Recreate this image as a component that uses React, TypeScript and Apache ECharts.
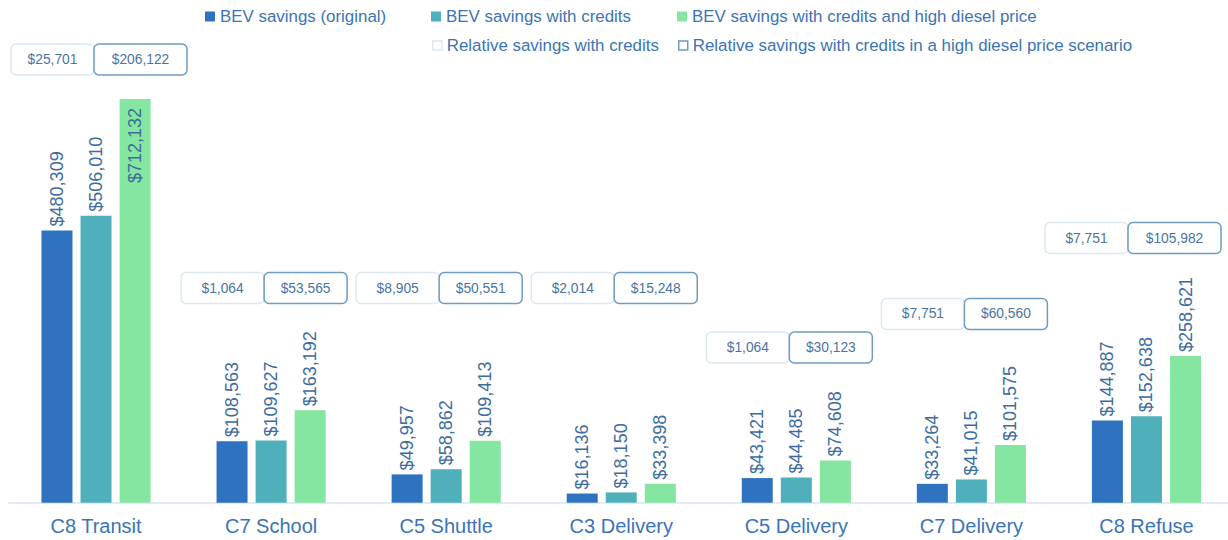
import React, { useEffect, useRef } from 'react';
import * as echarts from 'echarts';

const categories = ['C8 Transit', 'C7 School', 'C5 Shuttle', 'C3 Delivery', 'C5 Delivery', 'C7 Delivery', 'C8 Refuse'];
const bevOriginal = [480309, 108563, 49957, 16136, 43421, 33264, 144887];
const bevCredits = [506010, 109627, 58862, 18150, 44485, 41015, 152638];
const bevHighDiesel = [712132, 163192, 109413, 33398, 74608, 101575, 258621];
const relCredits = [25701, 1064, 8905, 2014, 1064, 7751, 7751];
const relHighDiesel = [206122, 53565, 50551, 15248, 30123, 60560, 105982];
// level (in $ on the value axis) at which the relative-savings callouts sit
const relLabelLevel = [781800, 378700, 378700, 378700, 273800, 332900, 466900];

const seriesNames = [
  'BEV savings (original)',
  'BEV savings with credits',
  'BEV savings with credits and high diesel price',
  'Relative savings with credits',
  'Relative savings with credits in a high diesel price scenario',
];

const FONT = '"Liberation Sans", Arial, sans-serif';
const fmt = (v: number) => '$' + Number(v).toLocaleString('en-US');

export default function App() {
  const ref = useRef<HTMLDivElement>(null);
  useEffect(() => {
    const chart = echarts.init(ref.current!, null, { renderer: 'svg' });
    const Y_MAX = 800000;
    const VIS_LEFT = 11;
    const VIS_RIGHT = 1221;

    const barLabel = {
      show: true,
      position: 'top',
      rotate: 90,
      align: 'left',
      verticalAlign: 'middle',
      distance: 4,
      fontSize: 18,
      fontFamily: FONT,
      color: '#3d6c9f',
      formatter: (p: any) => fmt(p.value),
    };

    const mkBar = (name: string, data: number[], color: string) => ({
      type: 'bar',
      name,
      data: data.map((v) =>
        v > Y_MAX * 0.85
          ? { value: v, label: { position: 'insideTop', align: 'right', verticalAlign: 'middle', distance: 9 } }
          : v
      ),
      barWidth: 31,
      barGap: '26%',
      itemStyle: { color },
      label: barLabel,
    });

    const boxWidth = (t: string) => 83 + Math.max(0, t.length - 7) * 10;

    const mkBox = (name: string, values: number[], other: number[], side: 'left' | 'right', stroke: string) => ({
      type: 'custom',
      name,
      coordinateSystem: 'cartesian2d',
      data: values.map((v, i) => [i, relLabelLevel[i], v, other[i]]),
      encode: { x: 0, y: 1 },
      z: 5,
      renderItem: (params: any, api: any) => {
        const p = api.coord([api.value(0), api.value(1)]);
        const text = fmt(api.value(2));
        const otherText = fmt(api.value(3));
        const w = boxWidth(text);
        const wl = side === 'left' ? w : boxWidth(otherText);
        const wr = side === 'right' ? w : boxWidth(otherText);
        const h = 31;
        let junction = p[0] - 7;
        if (junction - wl < VIS_LEFT) junction = VIS_LEFT + wl;
        if (junction + wr > VIS_RIGHT) junction = VIS_RIGHT - wr;
        const x = side === 'left' ? junction - w : junction;
        return {
          type: 'group',
          children: [
            {
              type: 'rect',
              shape: { x, y: p[1] - h / 2, width: w, height: h, r: 5 },
              style: { fill: '#ffffff', stroke, lineWidth: 1.5 },
            },
            {
              type: 'text',
              style: {
                x: x + w / 2,
                y: p[1],
                text,
                align: 'center',
                verticalAlign: 'middle',
                fontSize: 13.8,
                fontFamily: FONT,
                fill: '#4a74a2',
              },
            },
          ],
        };
      },
    });

    const legendBase = {
      padding: 0,
      itemWidth: 10,
      itemHeight: 10,
      icon: 'rect',
      selectedMode: false,
      textStyle: { fontSize: 16.9, color: '#3c73b4', fontFamily: FONT },
    };

    chart.setOption({
      animation: false,
      backgroundColor: '#ffffff',
      legend: [
        { ...legendBase, left: 205, top: 8, data: [seriesNames[0]] },
        { ...legendBase, left: 431, top: 8, data: [seriesNames[1]] },
        { ...legendBase, left: 677, top: 8, data: [seriesNames[2]] },
        {
          ...legendBase,
          left: 432,
          top: 37,
          itemWidth: 9,
          itemHeight: 9,
          data: [{ name: seriesNames[3], itemStyle: { color: '#ffffff', borderColor: '#dce8f4', borderWidth: 1.5 } }],
        },
        {
          ...legendBase,
          left: 678,
          top: 37,
          itemWidth: 9,
          itemHeight: 9,
          data: [{ name: seriesNames[4], itemStyle: { color: '#ffffff', borderColor: '#6d9cc2', borderWidth: 1.5 } }],
        },
      ],
      grid: { left: 8.5, right: 0, top: 49.2, bottom: 37.3, containLabel: false },
      xAxis: {
        type: 'category',
        data: categories,
        axisTick: { show: false },
        axisLine: { lineStyle: { color: '#d9e4f1', width: 1.5 } },
        axisLabel: { fontSize: 20, color: '#3a74b8', margin: 13, fontFamily: FONT },
      },
      yAxis: { type: 'value', min: 0, max: Y_MAX, show: false, splitLine: { show: false } },
      series: [
        mkBar(seriesNames[0], bevOriginal, '#2f72c0'),
        mkBar(seriesNames[1], bevCredits, '#4fafba'),
        mkBar(seriesNames[2], bevHighDiesel, '#84e6a0'),
        mkBox(seriesNames[3], relCredits, relHighDiesel, 'left', '#dce8f4'),
        mkBox(seriesNames[4], relHighDiesel, relCredits, 'right', '#6d9cc2'),
      ],
    });
    return () => chart.dispose();
  }, []);
  return (
    <div style={{ position: 'absolute', left: 0, top: 0, width: 1228, height: 540, overflow: 'hidden' }}>
      <div ref={ref} style={{ width: 1234, height: 540 }} />
    </div>
  );
}
